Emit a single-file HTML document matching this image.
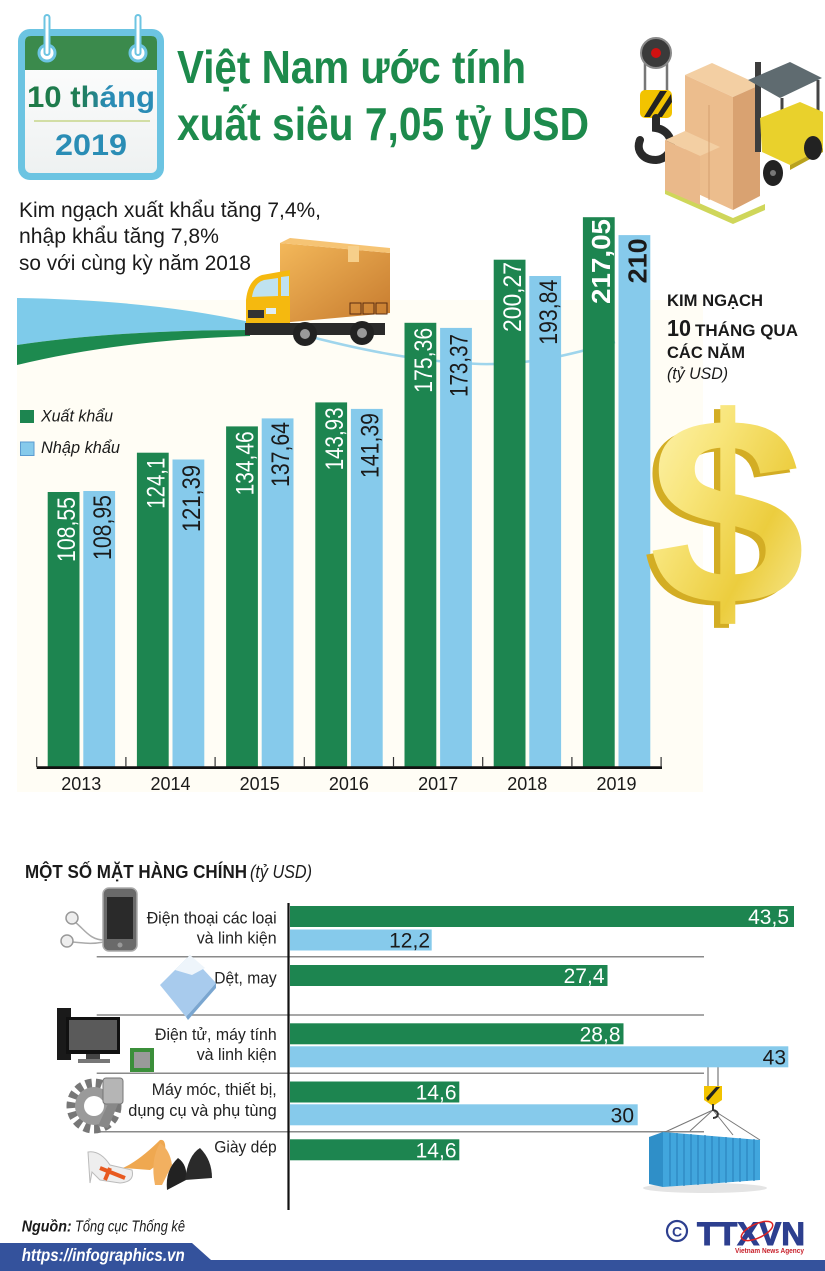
<!DOCTYPE html>
<html><head><meta charset="utf-8">
<style>
html,body{margin:0;padding:0;background:#fff;}
svg{display:block;}
text{font-family:"Liberation Sans","Noto Sans CJK SC",sans-serif;}
</style></head><body>
<svg width="825" height="1271" viewBox="0 0 825 1271" xmlns="http://www.w3.org/2000/svg">
<defs>
 <linearGradient id="calg" x1="0" y1="0" x2="1" y2="0">
  <stop offset="0" stop-color="#1e7a45"/><stop offset="0.42" stop-color="#1f7c55"/>
  <stop offset="0.62" stop-color="#2a8cb5"/><stop offset="1" stop-color="#2a8cb5"/>
 </linearGradient>
 <linearGradient id="gold" x1="0" y1="0" x2="1" y2="1">
  <stop offset="0" stop-color="#fff7c0"/><stop offset="0.35" stop-color="#f8e57a"/>
  <stop offset="0.65" stop-color="#eccd3e"/><stop offset="1" stop-color="#faf0a8"/>
 </linearGradient>
 <linearGradient id="boxg" x1="0" y1="0" x2="1" y2="1">
  <stop offset="0" stop-color="#f3b85a"/><stop offset="1" stop-color="#c67a2e"/>
 </linearGradient>
 <linearGradient id="calbg" x1="0" y1="0" x2="0" y2="1">
  <stop offset="0" stop-color="#ffffff"/><stop offset="1" stop-color="#eef1f1"/>
 </linearGradient>
</defs>
<rect width="825" height="1271" fill="#fff"/>

<!-- Calendar -->
<rect x="18" y="29" width="146" height="151" rx="12" fill="#6cc4e2"/>
<rect x="25" y="36" width="132" height="137" rx="6" fill="url(#calbg)"/>
<path d="M25,70 L25,42 Q25,36 31,36 L151,36 Q157,36 157,42 L157,70 Z" fill="#3b8a4c"/>
<circle cx="47" cy="53" r="8" fill="#fff" stroke="#6cc4e2" stroke-width="3"/>
<circle cx="138" cy="53" r="8" fill="#fff" stroke="#6cc4e2" stroke-width="3"/>
<rect x="44.5" y="15" width="5" height="40" rx="2.5" fill="#fff" stroke="#6cc4e2" stroke-width="2"/>
<rect x="135.5" y="15" width="5" height="40" rx="2.5" fill="#fff" stroke="#6cc4e2" stroke-width="2"/>
<text x="27" y="107" font-size="30" font-weight="bold" fill="url(#calg)" textLength="128" lengthAdjust="spacingAndGlyphs">10 tháng</text>
<line x1="34" y1="121" x2="150" y2="121" stroke="#c7d58a" stroke-width="1.5"/>
<text x="55" y="155" font-size="30" font-weight="bold" fill="#2a8db5" textLength="72" lengthAdjust="spacingAndGlyphs">2019</text>

<!-- Title -->
<text x="177" y="83" font-size="46" font-weight="bold" fill="#1d8a4c" textLength="349" lengthAdjust="spacingAndGlyphs">Việt Nam ước tính</text>
<text x="177" y="140" font-size="46" font-weight="bold" fill="#1d8a4c" textLength="412" lengthAdjust="spacingAndGlyphs">xuất siêu 7,05 tỷ USD</text>

<!-- Subtitle -->
<text x="19" y="217" font-size="21" fill="#1a1a1a" textLength="302" lengthAdjust="spacingAndGlyphs">Kim ngạch xuất khẩu tăng 7,4%,</text>
<text x="19" y="243" font-size="21" fill="#1a1a1a" textLength="200" lengthAdjust="spacingAndGlyphs">nhập khẩu tăng 7,8%</text>
<text x="19" y="270" font-size="21" fill="#1a1a1a" textLength="232" lengthAdjust="spacingAndGlyphs">so với cùng kỳ năm 2018</text>

<!-- Forklift / crane -->
<line x1="645" y1="55" x2="645" y2="92" stroke="#777" stroke-width="2.5"/>
<line x1="667" y1="55" x2="667" y2="92" stroke="#777" stroke-width="2.5"/>
<circle cx="656" cy="53" r="15" fill="#3a3a3a" stroke="#8a8a8a" stroke-width="2"/>
<circle cx="656" cy="53" r="5" fill="#d01010"/>
<rect x="640" y="90" width="32" height="28" rx="5" fill="#f2c300"/>
<path d="M644,117 L660,91 L667,91 L650,117 Z M656,117 L671,94 L672,102 L662,117 Z" fill="#222"/>
<path d="M656,118 L656,128 C676,131 676,158 656,160 C642,160 636,150 640,140" stroke="#2a2a2a" stroke-width="8" fill="none" stroke-linecap="round"/>
<polygon points="665,188 733,218 765,204 765,210 733,224 665,194" fill="#cfd65a"/>
<polygon points="685,75 712,63 760,85 733,97" fill="#f3cfa3"/>
<polygon points="685,75 733,97 733,210 685,188" fill="#ecbd8d"/>
<polygon points="733,97 760,85 760,196 733,210" fill="#d9a271"/>
<polygon points="665,140 685,131 720,147 700,156" fill="#f3cfa3"/>
<polygon points="665,140 700,156 700,205 665,190" fill="#eab98a"/>
<line x1="709" y1="105" x2="709" y2="200" stroke="#d5a070" stroke-width="1"/>
<rect x="755" y="62" width="6" height="90" fill="#3d3d3d"/>
<polygon points="748,80 790,62 822,78 780,98" fill="#5f6b70"/>
<line x1="782" y1="98" x2="782" y2="130" stroke="#444" stroke-width="3"/>
<line x1="818" y1="80" x2="818" y2="112" stroke="#444" stroke-width="3"/>
<polygon points="760,118 800,102 823,112 823,148 790,165 762,152" fill="#e9d12c"/>
<polygon points="790,165 823,148 823,152 790,170" fill="#b9a21c"/>
<ellipse cx="773" cy="173" rx="10" ry="13" fill="#222"/>
<ellipse cx="813" cy="148" rx="9" ry="12" fill="#222"/>
<circle cx="773" cy="173" r="3" fill="#777"/>

<!-- Chart background -->
<rect x="17" y="300" width="686" height="492" fill="#fffdf5"/>
<path d="M17,298 Q150,300 250,322 L250,330 Q120,330 17,345 Z" fill="#7ecbea"/>
<path d="M17,345 Q120,330 250,330 L250,336 Q120,340 17,365 Z" fill="#1d8a4f"/>
<path d="M300,334 C360,350 420,362 480,364 C530,365 570,355 615,342" stroke="#9fd5ec" stroke-width="2.5" fill="none"/>

<!-- Truck -->
<polygon points="280,243 390,253 390,313 280,323" fill="url(#boxg)"/>
<polygon points="280,243 290,238 390,248 390,253" fill="#f6c474"/>
<rect x="348" y="246" width="11" height="16" fill="#f6cf8a"/>
<rect x="350" y="303" width="11" height="11" fill="none" stroke="#5a2c10" stroke-width="1"/>
<rect x="363" y="303" width="11" height="11" fill="none" stroke="#5a2c10" stroke-width="1"/>
<rect x="376" y="303" width="11" height="11" fill="none" stroke="#5a2c10" stroke-width="1"/>
<path d="M246,300 Q248,280 262,275 L290,270 L290,330 L246,332 Z" fill="#f5b90f"/>
<path d="M252,297 Q254,283 264,280 L278,278 L278,296 Z" fill="#bfe2f0"/>
<path d="M281,277 L289,276 L289,296 L281,296 Z" fill="#bfe2f0"/>
<rect x="248" y="310" width="16" height="8" fill="#333"/>
<rect x="266" y="308" width="10" height="6" fill="#dfeef5"/>
<rect x="245" y="323" width="140" height="12" fill="#2a2a2a"/>
<circle cx="305" cy="334" r="12" fill="#222"/><circle cx="305" cy="334" r="5" fill="#999"/>
<circle cx="362" cy="333" r="12" fill="#222"/><circle cx="362" cy="333" r="5" fill="#999"/>

<!-- Legend -->
<rect x="20" y="410" width="14" height="13" fill="#1d8550"/>
<text x="41" y="421.5" font-size="17" font-style="italic" fill="#1a1a1a" textLength="72" lengthAdjust="spacingAndGlyphs">Xuất khẩu</text>
<rect x="20.5" y="442" width="13.5" height="13.5" fill="#86caeb" stroke="#5b9bd0" stroke-width="1"/>
<text x="41" y="453" font-size="17" font-style="italic" fill="#1a1a1a" textLength="79" lengthAdjust="spacingAndGlyphs">Nhập khẩu</text>

<!-- Bars -->
<g fill="#1d8550">
 <rect x="47.7" y="492.0" width="31.8" height="275"/>
 <rect x="136.9" y="452.7" width="31.8" height="314.3"/>
 <rect x="226.1" y="426.4" width="31.8" height="340.6"/>
 <rect x="315.3" y="402.4" width="31.8" height="364.6"/>
 <rect x="404.5" y="322.8" width="31.8" height="444.2"/>
 <rect x="493.7" y="259.7" width="31.8" height="507.3"/>
 <rect x="582.9" y="217.2" width="31.8" height="549.8"/>
</g>
<g fill="#86caeb">
 <rect x="83.3" y="491.0" width="31.8" height="276"/>
 <rect x="172.5" y="459.5" width="31.8" height="307.5"/>
 <rect x="261.7" y="418.4" width="31.8" height="348.6"/>
 <rect x="350.9" y="408.9" width="31.8" height="358.1"/>
 <rect x="440.1" y="327.9" width="31.8" height="439.1"/>
 <rect x="529.3" y="276.0" width="31.8" height="491"/>
 <rect x="618.5" y="235.1" width="31.8" height="531.9"/>
</g>
<g font-size="25" fill="#fff">
 <text transform="translate(75.2,562) rotate(-90)" textLength="65" lengthAdjust="spacingAndGlyphs">108,55</text>
 <text transform="translate(164.4,508.7) rotate(-90)" textLength="51" lengthAdjust="spacingAndGlyphs">124,1</text>
 <text transform="translate(253.6,495.4) rotate(-90)" textLength="64" lengthAdjust="spacingAndGlyphs">134,46</text>
 <text transform="translate(342.8,470.4) rotate(-90)" textLength="63" lengthAdjust="spacingAndGlyphs">143,93</text>
 <text transform="translate(432,392.8) rotate(-90)" textLength="65" lengthAdjust="spacingAndGlyphs">175,36</text>
 <text transform="translate(521.2,332) rotate(-90)" textLength="70" lengthAdjust="spacingAndGlyphs">200,27</text>
 <text transform="translate(610,304) rotate(-90)" font-size="26" font-weight="bold" textLength="85" lengthAdjust="spacingAndGlyphs">217,05</text>
</g>
<g font-size="25" fill="#1a1a1a">
 <text transform="translate(110.8,560) rotate(-90)" textLength="65" lengthAdjust="spacingAndGlyphs">108,95</text>
 <text transform="translate(200,532) rotate(-90)" textLength="67" lengthAdjust="spacingAndGlyphs">121,39</text>
 <text transform="translate(289.2,487) rotate(-90)" textLength="65" lengthAdjust="spacingAndGlyphs">137,64</text>
 <text transform="translate(378.4,478) rotate(-90)" textLength="65" lengthAdjust="spacingAndGlyphs">141,39</text>
 <text transform="translate(467.6,397) rotate(-90)" textLength="63" lengthAdjust="spacingAndGlyphs">173,37</text>
 <text transform="translate(556.8,344.7) rotate(-90)" textLength="65" lengthAdjust="spacingAndGlyphs">193,84</text>
 <text transform="translate(646.7,283.4) rotate(-90)" font-size="26" font-weight="bold" textLength="45" lengthAdjust="spacingAndGlyphs">210</text>
</g>

<!-- Axis -->
<line x1="36.7" y1="767.6" x2="662" y2="767.6" stroke="#111" stroke-width="2.8"/>
<g stroke="#333" stroke-width="1.2">
 <line x1="36.7" y1="757" x2="36.7" y2="767"/>
 <line x1="125.9" y1="757" x2="125.9" y2="767"/>
 <line x1="215.1" y1="757" x2="215.1" y2="767"/>
 <line x1="304.3" y1="757" x2="304.3" y2="767"/>
 <line x1="393.5" y1="757" x2="393.5" y2="767"/>
 <line x1="482.7" y1="757" x2="482.7" y2="767"/>
 <line x1="571.9" y1="757" x2="571.9" y2="767"/>
 <line x1="661.1" y1="757" x2="661.1" y2="767"/>
</g>
<g font-size="18" fill="#1a1a1a" text-anchor="middle">
 <text x="81.3" y="790">2013</text>
 <text x="170.5" y="790">2014</text>
 <text x="259.7" y="790">2015</text>
 <text x="348.9" y="790">2016</text>
 <text x="438.1" y="790">2017</text>
 <text x="527.3" y="790">2018</text>
 <text x="616.5" y="790">2019</text>
</g>

<!-- KIM NGẠCH -->
<g fill="#1a1a1a">
 <text x="667" y="306" font-size="17" font-weight="bold" textLength="96" lengthAdjust="spacingAndGlyphs">KIM NGẠCH</text>
 <text x="667" y="336" font-size="23" font-weight="bold" textLength="24" lengthAdjust="spacingAndGlyphs">10</text>
 <text x="695" y="336" font-size="17" font-weight="bold" textLength="103" lengthAdjust="spacingAndGlyphs">THÁNG QUA</text>
 <text x="667" y="358" font-size="17" font-weight="bold" textLength="78" lengthAdjust="spacingAndGlyphs">CÁC NĂM</text>
 <text x="667" y="379" font-size="17" font-style="italic" textLength="61" lengthAdjust="spacingAndGlyphs">(tỷ USD)</text>
</g>

<!-- Dollar -->
<g transform="translate(652,0) scale(1.05,1)">
 <text x="-9" y="608" font-size="268" font-weight="bold" fill="#d3ad24">$</text>
 <text x="-3" y="604" font-size="268" font-weight="bold" fill="url(#gold)">$</text>
</g>

<!-- Bottom section -->
<text x="25" y="878" font-size="18" font-weight="bold" fill="#1a1a1a" textLength="222" lengthAdjust="spacingAndGlyphs">MỘT SỐ MẶT HÀNG CHÍNH</text>
<text x="250" y="878" font-size="18" font-style="italic" fill="#1a1a1a" textLength="62" lengthAdjust="spacingAndGlyphs">(tỷ USD)</text>

<g stroke="#8a8a8a" stroke-width="1.5">
 <line x1="96.7" y1="956.7" x2="704" y2="956.7"/>
 <line x1="96.7" y1="1015" x2="704" y2="1015"/>
 <line x1="96.7" y1="1073.3" x2="704" y2="1073.3"/>
 <line x1="96.7" y1="1131.7" x2="704" y2="1131.7"/>
</g>

<!-- Container -->
<ellipse cx="705" cy="1188" rx="62" ry="5" fill="#e4e4e4"/>
<line x1="708" y1="1060" x2="708" y2="1088" stroke="#777" stroke-width="1.2"/>
<line x1="718" y1="1060" x2="718" y2="1088" stroke="#777" stroke-width="1.2"/>
<g stroke="#777" stroke-width="1">
 <line x1="713" y1="1110" x2="663" y2="1133"/>
 <line x1="713" y1="1110" x2="690" y2="1131"/>
 <line x1="713" y1="1110" x2="733" y2="1135"/>
 <line x1="713" y1="1110" x2="760" y2="1140"/>
</g>
<polygon points="704,1086 722,1086 722,1100 713,1106 704,1100" fill="#f2c300"/>
<path d="M706,1098 L716,1087 L720,1087 L708,1101 Z" fill="#222"/>
<path d="M713,1104 L713,1110 C720,1111 719,1118 713,1118" stroke="#333" stroke-width="2" fill="none"/>
<polygon points="649,1137 663,1132 663,1187 649,1184" fill="#2f8fc8"/>
<polygon points="663,1132 760,1140 760,1180 663,1187" fill="#41a6dd"/>
<g stroke="#2c86bf" stroke-width="1.2">
 <line x1="670" y1="1133" x2="670" y2="1186"/><line x1="677" y1="1133" x2="677" y2="1186"/>
 <line x1="684" y1="1134" x2="684" y2="1186"/><line x1="691" y1="1134" x2="691" y2="1185"/>
 <line x1="698" y1="1135" x2="698" y2="1185"/><line x1="705" y1="1135" x2="705" y2="1184"/>
 <line x1="712" y1="1136" x2="712" y2="1184"/><line x1="719" y1="1137" x2="719" y2="1183"/>
 <line x1="726" y1="1137" x2="726" y2="1183"/><line x1="733" y1="1138" x2="733" y2="1182"/>
 <line x1="740" y1="1138" x2="740" y2="1182"/><line x1="747" y1="1139" x2="747" y2="1181"/>
 <line x1="754" y1="1139" x2="754" y2="1181"/>
</g>

<line x1="288.5" y1="903" x2="288.5" y2="1210" stroke="#111" stroke-width="2.2"/>

<g fill="#1d8550">
 <rect x="290" y="906" width="504" height="21"/>
 <rect x="290" y="965" width="317.5" height="21"/>
 <rect x="290" y="1023.3" width="333.5" height="21"/>
 <rect x="290" y="1081.5" width="169.3" height="21"/>
 <rect x="290" y="1139.3" width="169.3" height="21"/>
</g>
<g fill="#86caeb">
 <rect x="290" y="929.5" width="141.7" height="21"/>
 <rect x="290" y="1046.3" width="498.3" height="21"/>
 <rect x="290" y="1104.3" width="347.7" height="21"/>
</g>
<g font-size="21" text-anchor="end" fill="#fff">
 <text x="789" y="924">43,5</text>
 <text x="604.5" y="983">27,4</text>
 <text x="620.5" y="1041.3">28,8</text>
 <text x="456.5" y="1099.5">14,6</text>
 <text x="456.5" y="1157.3">14,6</text>
</g>
<g font-size="21" text-anchor="end" fill="#1a1a1a">
 <text x="430" y="947.5">12,2</text>
 <text x="786" y="1064.3">43</text>
 <text x="634" y="1122.3">30</text>
</g>

<g font-size="16.5" fill="#222">
 <text x="146.7" y="923.3" textLength="130" lengthAdjust="spacingAndGlyphs">Điện thoại các loại</text>
 <text x="196.7" y="943.3" textLength="80" lengthAdjust="spacingAndGlyphs">và linh kiện</text>
 <text x="214.3" y="983.3" textLength="62.4" lengthAdjust="spacingAndGlyphs">Dệt, may</text>
 <text x="155" y="1040" textLength="121.7" lengthAdjust="spacingAndGlyphs">Điện tử, máy tính</text>
 <text x="196.7" y="1060" textLength="80" lengthAdjust="spacingAndGlyphs">và linh kiện</text>
 <text x="151.7" y="1095" textLength="125" lengthAdjust="spacingAndGlyphs">Máy móc, thiết bị,</text>
 <text x="128.3" y="1116" textLength="148.4" lengthAdjust="spacingAndGlyphs">dụng cụ và phụ tùng</text>
 <text x="214.3" y="1152.7" textLength="62.4" lengthAdjust="spacingAndGlyphs">Giày dép</text>
</g>

<!-- Icons: phone -->
<path d="M104,940 C90,940 85,930 75,922 M104,942 C88,945 80,942 70,942" stroke="#aaa" stroke-width="1.5" fill="none"/>
<circle cx="72" cy="918" r="6" fill="#eee" stroke="#999" stroke-width="1.5"/>
<circle cx="67" cy="941" r="6" fill="#eee" stroke="#999" stroke-width="1.5"/>
<rect x="103" y="888" width="34" height="63" rx="6" fill="#6a6a6a" stroke="#aaa" stroke-width="1.5"/>
<rect x="107" y="897" width="26" height="42" fill="#2a2a2a"/>
<circle cx="120" cy="945" r="2.5" fill="#999"/>
<!-- shirt -->
<polygon points="160,985 190,955 216,983 186,1017" fill="#a8cbed"/>
<polygon points="175,970 190,955 205,968 192,975" fill="#eef5fb"/>
<polygon points="186,1017 216,983 216,988 188,1020" fill="#7aa6d0"/>
<!-- computer -->
<rect x="57" y="1008" width="14" height="52" fill="#1a1a1a"/>
<rect x="66" y="1017" width="54" height="37" fill="#111"/>
<rect x="69" y="1020" width="48" height="30" fill="#5a5a5a"/>
<rect x="86" y="1054" width="14" height="6" fill="#444"/>
<rect x="78" y="1059" width="32" height="4" fill="#777"/>
<rect x="130" y="1048" width="24" height="24" fill="#3b8f3a"/>
<rect x="134" y="1052" width="16" height="16" fill="#9a9a9a"/>
<!-- gear -->
<circle cx="94" cy="1106" r="23" fill="none" stroke="#777" stroke-width="9" stroke-dasharray="6 4"/>
<circle cx="94" cy="1106" r="19" fill="#9a9a9a"/>
<circle cx="94" cy="1106" r="10" fill="#fff"/>
<rect x="103" y="1078" width="20" height="26" rx="3" fill="#b5b5b5" stroke="#777"/>
<polygon points="108,1104 118,1104 108,1128 98,1126" fill="#888"/>
<!-- shoes -->
<path d="M88,1152 Q100,1150 110,1165 L132,1170 Q135,1182 120,1183 L100,1180 L92,1172 L90,1183 Z" fill="#eee" stroke="#bbb"/>
<path d="M100,1168 L125,1178 M110,1168 L105,1180" stroke="#e85a20" stroke-width="4"/>
<path d="M123,1168 Q140,1160 160,1140 Q168,1138 164,1160 L150,1170 Z" fill="#efa850"/>
<path d="M155,1185 Q150,1160 160,1143 Q170,1150 172,1165 L162,1185 Z" fill="#f2b060"/>
<path d="M167,1190 Q165,1170 178,1158 Q188,1165 186,1180 Z" fill="#222"/>
<path d="M185,1180 Q188,1155 200,1148 Q212,1160 212,1178 Z" fill="#2a2a2a"/>

<!-- Footer -->
<text x="21.7" y="1231.7" font-size="15.5" font-weight="bold" font-style="italic" fill="#1a1a1a" textLength="50" lengthAdjust="spacingAndGlyphs">Nguồn:</text>
<text x="75" y="1231.7" font-size="15.5" font-style="italic" fill="#1a1a1a" textLength="110" lengthAdjust="spacingAndGlyphs">Tổng cục Thống kê</text>

<circle cx="677" cy="1231" r="10" fill="none" stroke="#2d3f8f" stroke-width="2.2"/>
<text x="677" y="1236.5" font-size="14" font-weight="bold" fill="#2d3f8f" text-anchor="middle">C</text>
<text x="697" y="1245" font-size="32" font-weight="bold" fill="#2d3f8f" stroke="#2d3f8f" stroke-width="1" textLength="108" lengthAdjust="spacingAndGlyphs">TTXVN</text>
<ellipse cx="757" cy="1231" rx="17" ry="7" fill="none" stroke="#d22" stroke-width="1.5" transform="rotate(-25 757 1231)"/>
<text x="735" y="1253" font-size="7.5" font-weight="bold" fill="#c8202a" textLength="69" lengthAdjust="spacingAndGlyphs">Vietnam News Agency</text>

<polygon points="0,1243 192,1243 211,1260 825,1260 825,1271 0,1271" fill="#34529c"/>
<text x="21.7" y="1261" font-size="17.5" font-weight="bold" font-style="italic" fill="#fff" textLength="163" lengthAdjust="spacingAndGlyphs">https://infographics.vn</text>
</svg>
</body></html>
